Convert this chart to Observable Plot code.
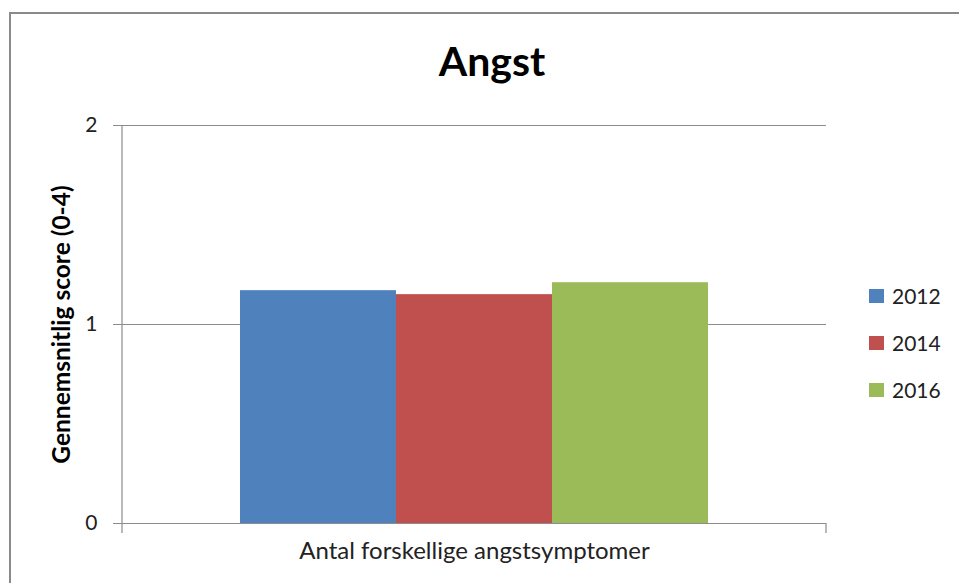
<!DOCTYPE html>
<html>
<head>
<meta charset="utf-8">
<script src="https://cdn.jsdelivr.net/npm/d3@7"></script>
<script src="https://cdn.jsdelivr.net/npm/@observablehq/plot@0.6"></script>
<style>
  html, body { margin: 0; padding: 0; background: #fff; overflow: hidden; }
  #wrap { position: relative; width: 959px; height: 583px; font-family: Lato, "Noto Sans", sans-serif; }
  #border { position: absolute; left: 9px; top: 12px; width: 1200px; height: 900px; border: 2px solid #8a8a8a; box-sizing: border-box; }
  #title { position: absolute; left: 0; width: 984px; top: 36px; text-align: center; font-size: 41px; font-weight: bold; color: #000; line-height: 50px; }
  #legend { position: absolute; left: 869px; top: 272px; }
  .row { display: flex; align-items: center; height: 47px; font-size: 21px; color: #222; }
  .sw { width: 15px; height: 14px; margin-right: 8px; }
  #chart { position: absolute; left: 0; top: 0; }
</style>
</head>
<body>
<div id="wrap">
  <div id="border"></div>
  <div id="chart"></div>
  <div id="title"></div>
  <div id="legend"></div>
</div>
<script>
const title = "Angst";
const category = "Antal forskellige angstsymptomer";
const yLabel = "Gennemsnitlig score (0-4)";
const years = ["2012", "2014", "2016"];
const values = [1.17, 1.15, 1.21];
const colors = ["#4F81BD", "#C0504D", "#9BBB59"];
const yTicks = [0, 1, 2];

const data = years.map((y, i) => ({year: y, value: values[i]}));

document.getElementById("title").textContent = title;
const legend = document.getElementById("legend");
years.forEach((y, i) => {
  const row = document.createElement("div");
  row.className = "row";
  const sw = document.createElement("div");
  sw.className = "sw";
  sw.style.background = colors[i];
  const t = document.createElement("span");
  t.textContent = y;
  row.appendChild(sw); row.appendChild(t);
  legend.appendChild(row);
});

const chart = Plot.plot({
  width: 959,
  height: 583,
  marginTop: 125,
  marginBottom: 60,
  marginLeft: 122,
  marginRight: 133,
  style: {fontFamily: "Lato, 'Noto Sans', sans-serif", background: "transparent", color: "#222"},
  x: {domain: years, paddingInner: 0, paddingOuter: 0.755, axis: null},
  y: {domain: [0, 2], axis: null},
  color: {domain: years, range: colors},
  marks: [
    Plot.ruleY(yTicks, {stroke: "#8c8c8c", strokeWidth: 1.2}),
    Plot.axisY({ticks: yTicks, tickSize: 9, tickPadding: 16, fontSize: 21, stroke: "#8c8c8c", label: null, tickFormat: d => String(d)}),
    Plot.barY(data, {x: "year", y: "value", fill: "year"}),
    Plot.ruleY([0], {stroke: "#8c8c8c", strokeWidth: 1.2}),
    Plot.text([category], {frameAnchor: "bottom", dy: 35, fontSize: 24, fill: "#222", text: d => d}),
    Plot.text([yLabel], {frameAnchor: "left", textAnchor: "middle", dx: -60, rotate: -90, fontSize: 24.5, fontWeight: "bold", fill: "#000", text: d => d})
  ]
});
document.getElementById("chart").appendChild(chart);

// axis line and category boundary ticks, placed through the plot's scales
const xs = chart.scale("x").range;
const ys = chart.scale("y");
const y0 = ys.apply(0), y2 = ys.apply(2);
const svg = d3.select(chart);
svg.append("line").attr("x1", xs[0]).attr("x2", xs[0]).attr("y1", y2).attr("y2", y0 + 10)
  .attr("stroke", "#8c8c8c").attr("stroke-width", 1.2);
svg.append("line").attr("x1", xs[1]).attr("x2", xs[1]).attr("y1", y0).attr("y2", y0 + 10)
  .attr("stroke", "#8c8c8c").attr("stroke-width", 1.2);
</script>
</body>
</html>
